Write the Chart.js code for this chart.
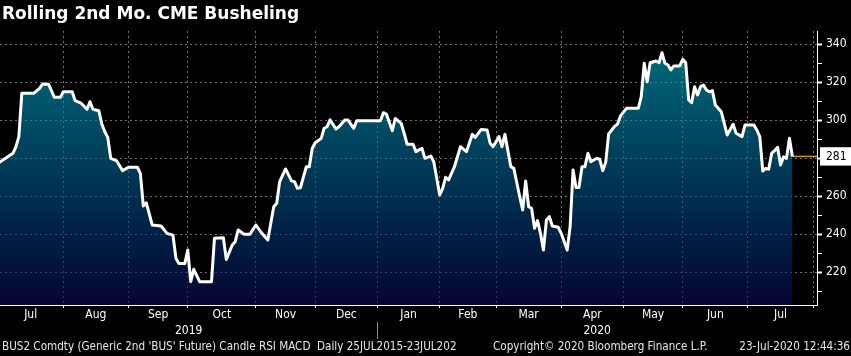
<!DOCTYPE html>
<html>
<head>
<meta charset="utf-8">
<script src="https://cdn.jsdelivr.net/npm/chart.js@4.4.1/dist/chart.umd.min.js"></script>
<style>
html,body{margin:0;padding:0;background:#000;}
#wrap{position:relative;width:851px;height:356px;background:#000;overflow:hidden;}
canvas{position:absolute;left:0;top:0;}
.t{position:absolute;color:#fff;font-family:"DejaVu Sans Condensed","DejaVu Sans",sans-serif;white-space:nowrap;line-height:1;}
#title{left:2px;top:5px;font-weight:bold;font-size:17px;font-family:"DejaVu Sans",sans-serif;}
.f{font-size:11.6px;top:341px;color:#e6e6e6;}
</style>
</head>
<body>
<div id="wrap">
<canvas id="c" width="851" height="356"></canvas>
<div id="title" class="t">Rolling 2nd Mo. CME Busheling</div>
<div class="t f" style="left:2px">BUS2 Comdty (Generic 2nd 'BUS' Future) Candle RSI MACD&nbsp; Daily 25JUL2015-23JUL202</div>
<div class="t f" style="left:493px">Copyright© 2020 Bloomberg Finance L.P.</div>
<div class="t f" style="right:1px">23-Jul-2020 12:44:36</div>
</div>
<script>
// Trading-day index (0 = 1 Jul 2019) and price
const tradingDay = [0,3,5,6,7,8,12,14,15,17,19,21,22,25,26,28,30,31,32,34,35,36,37,38,40,42,44,47,48,49,50,52,55,57,59,60,61,63,64,65,66,68,72,73,76,77,79,80,81,83,85,86,87,89,91,93,94,95,97,99,100,101,102,104,105,106,107,109,110,111,112,114,115,117,118,120,121,129,130,131,133,134,136,137,138,140,141,143,144,146,147,149,150,151,152,154,156,158,160,161,163,165,166,167,169,170,171,173,174,176,177,178,179,180,181,182,183,184,185,186,187,189,190,192,193,194,195,196,197,198,199,200,202,203,204,205,206,208,209,210,212,216,217,218,219,220,222,223,224,225,226,227,228,230,231,232,233,234,235,236,237,238,239,240,241,242,244,246,248,249,251,252,255,256,257,258,259,260,261,262,263,264,265,266,267,268];
const price = [277.4,280.5,282.6,286,291.4,314.2,314.2,316.8,319.1,319,312.1,312.1,315,315,310.3,309,305.8,309.8,305.8,305,298,294,291,280,278.7,273.5,275.3,275.3,272.1,254.9,256.6,244.9,244.4,240.5,239.6,227.4,224.7,224.7,231.7,215.1,221.6,215.1,215.1,237.9,238.2,226.8,234.4,236.1,242.3,240,240,242.6,244.9,240.5,237,254.5,256.3,267.7,274.4,268.1,267.7,264.2,264.5,275.6,275.6,285.3,288.2,290.5,295.8,296.6,300.2,295.4,296.6,300.2,300.2,295.8,299.8,299.8,304,303.3,294.5,301,298.4,293.2,287.4,287.4,283.5,285.3,280,281.2,278.2,260.7,264.2,270,268.6,275.6,286.1,283.5,292.6,291,295.2,294.9,288,286.1,291.4,286.1,292.6,275.6,274.7,259.8,252.8,268.1,254.5,253.7,243.2,247.2,240.5,231.7,247.5,249.3,244.4,243.7,240.5,231.7,244,273.8,264.7,264.7,275.6,275.6,282.6,278.2,280,279.5,273.5,277.8,292.8,296.8,298,302.3,306.3,306.3,312.4,330,320.3,330.3,331.2,330.3,335.6,330,329.1,326.5,328.6,328.6,332.1,330.3,310.7,309.3,317.7,313.3,317.7,318.6,316,315,315.6,308.1,304.5,292.3,297.9,293.2,291.4,297.5,297.5,294.9,291.4,273.3,274.7,274.2,282.6,284,285.8,276.5,280.8,280,290.5,281];

// Axis tick definitions
const monthStart = [0,22,44,64,87,107,128,149,168,190,211,231,253,275];
const monthName = ['Jul','Aug','Sep','Oct','Nov','Dec','Jan','Feb','Mar','Apr','May','Jun','Jul'];
const yearStart = [128];
const yearName = ['2019','2020'];
const yTickValues = [210,220,230,240,250,260,270,280,290,300,310,320,330,340];
const yLabelValues = [220,240,260,280,300,320,340];
const xRange = [0.64, 276.3];
const yRange = [202.8, 347];

const lastDay = tradingDay[tradingDay.length - 1];
const lastPrice = price[price.length - 1];

const monthMid = monthName.map((n, i) => (monthStart[i] + monthStart[i + 1]) / 2);
const xTicks = monthStart.filter(v => v > xRange[0] && v <= xRange[1]).concat(monthMid).sort((a, b) => a - b);
const yearEdges = [xRange[0]].concat(yearStart, [xRange[1]]);
const yearMid = yearName.map((n, i) => (yearEdges[i] + yearEdges[i + 1]) / 2);
const yearTicks = yearStart.concat(yearMid).sort((a, b) => a - b);
const yTicks = yTickValues.concat([lastPrice]).sort((a, b) => a - b);

const GRID = 'rgba(140,140,140,0.8)';
const FONT = {family: '"DejaVu Sans Condensed", "DejaVu Sans", sans-serif', size: 12};

function fillGradient(context) {
  const {ctx, chartArea} = context.chart;
  if (!chartArea) return 'rgba(0,80,100,0.6)';
  const g = ctx.createLinearGradient(0, chartArea.top, 0, chartArea.bottom);
  g.addColorStop(0, 'rgba(0,190,210,0.6)');
  g.addColorStop(0.4, 'rgba(0,115,158,0.6)');
  g.addColorStop(0.75, 'rgba(0,50,112,0.6)');
  g.addColorStop(1, 'rgba(10,8,84,0.6)');
  return g;
}

Chart.defaults.font.family = FONT.family;
Chart.defaults.color = '#ffffff';

new Chart(document.getElementById('c'), {
  type: 'line',
  data: {
    datasets: [
      {
        data: tradingDay.map((d, i) => ({x: d, y: price[i]})),
        borderColor: '#ffffff',
        borderWidth: 3,
        borderJoinStyle: 'round',
        pointRadius: 0,
        tension: 0,
        fill: 'start',
        backgroundColor: fillGradient
      },
      {
        data: [{x: lastDay, y: lastPrice}, {x: xRange[1], y: lastPrice}],
        borderColor: '#f08c00',
        borderWidth: 1.5,
        pointRadius: 0,
        fill: false
      }
    ]
  },
  options: {
    responsive: false,
    devicePixelRatio: 1,
    animation: false,
    layout: {padding: {top: 31, bottom: 14, left: 0, right: 0}},
    plugins: {legend: {display: false}, tooltip: {enabled: false}, title: {display: false}},
    scales: {
      x: {
        type: 'linear', position: 'bottom', min: xRange[0], max: xRange[1], bounds: 'data', weight: 0,
        afterBuildTicks: s => { s.ticks = xTicks.map(v => ({value: v})); },
        afterFit: s => { s.height = 17; },
        grid: {
          color: c => (c.tick && monthStart.includes(c.tick.value)) ? GRID : 'transparent',
          tickColor: c => (c.tick && monthStart.includes(c.tick.value)) ? '#ffffff' : 'transparent',
          tickLength: 3, lineWidth: 1
        },
        border: {display: true, color: '#ffffff', width: 1, dash: [2, 3]},
        ticks: {
          autoSkip: false, maxRotation: 0, padding: 0, color: '#ffffff', font: FONT,
          callback: v => { const i = monthMid.indexOf(v); return i >= 0 ? monthName[i] : ''; }
        }
      },
      xy: {
        type: 'linear', position: 'bottom', min: xRange[0], max: xRange[1], bounds: 'data', weight: 1,
        afterBuildTicks: s => { s.ticks = yearTicks.map(v => ({value: v})); },
        afterFit: s => { s.height = 20; },
        grid: {
          drawOnChartArea: false, drawTicks: true, tickLength: 17, color: 'transparent',
          tickColor: c => (c.tick && yearStart.includes(c.tick.value)) ? '#8a8a8a' : 'transparent'
        },
        border: {display: false},
        ticks: {
          autoSkip: false, maxRotation: 0, padding: -15, color: '#ffffff', font: FONT,
          callback: v => { const i = yearMid.indexOf(v); return i >= 0 ? yearName[i] : ''; }
        }
      },
      y: {
        type: 'linear', position: 'right', min: yRange[0], max: yRange[1], bounds: 'data',
        afterBuildTicks: s => { s.ticks = yTicks.map(v => ({value: v})); },
        afterFit: s => { s.width = 34; },
        grid: {
          color: c => (c.tick && yLabelValues.includes(c.tick.value)) ? GRID : 'transparent',
          tickColor: c => (c.tick && c.tick.value === lastPrice) ? 'transparent' : '#ffffff',
          tickWidth: c => (c.tick && yLabelValues.includes(c.tick.value)) ? 2 : 1,
          tickLength: 5
        },
        border: {display: true, color: '#ffffff', width: 1, dash: [2, 3]},
        ticks: {
          autoSkip: false, padding: 4, font: FONT,
          color: c => (c.tick && c.tick.value === lastPrice) ? '#000000' : '#ffffff',
          showLabelBackdrop: c => !!(c.tick && c.tick.value === lastPrice),
          backdropColor: '#ffffff',
          backdropPadding: {top: 2, bottom: 2, left: 6, right: 6},
          callback: v => {
            if (v === lastPrice) return String(Math.round(v));
            if (yLabelValues.includes(v) && Math.abs(v - lastPrice) >= 6) return String(v);
            return '';
          }
        }
      }
    }
  }
});
</script>
</body>
</html>
